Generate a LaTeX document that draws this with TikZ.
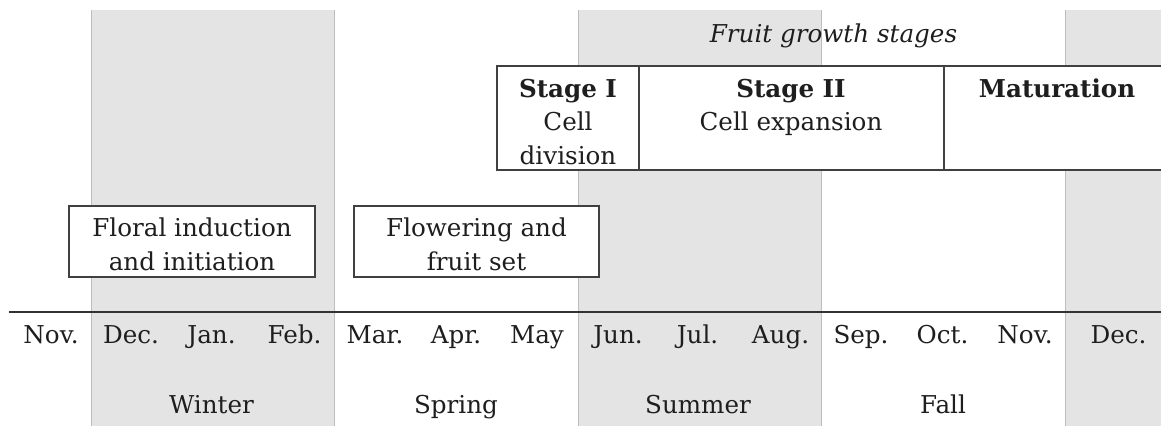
\documentclass[tikz,border=0pt]{standalone}
\usepackage{fontspec}
\setmainfont{DejaVu Serif}
\usetikzlibrary{positioning}

\definecolor{bandgray}{HTML}{E4E4E4}
\definecolor{bandline}{HTML}{BDBDBD}
\definecolor{boxline}{HTML}{404040}
\definecolor{inkgray}{HTML}{1E1E1E}

\begin{document}
\begin{tikzpicture}[x=0.5pt,y=-0.5pt,
		every node/.style={inner sep=0pt, text=inkgray, font=\fontsize{12.3}{16.75}\selectfont},
		band/.style={fill=bandgray},
		bandedge/.style={draw=bandline, line width=0.4pt},
		phasebox/.style={draw=boxline, fill=white, line width=0.65pt},
		label/.style={anchor=base, align=center},
		head/.style={label, font=\fontsize{12.3}{16.75}\selectfont\bfseries}]
	\useasboundingbox (0,0) rectangle (1161,425);
	\def\bandtop{10};
	\def\bandbot{426};
	\def\axisy{312};

	% seasons shaded
	\begin{scope}
		\foreach \l/\r in {91/334.5, 578.5/821.5, 1065.5/1163}{
			\fill[band] (\l,\bandtop) rectangle (\r,\bandbot);
			\draw[bandedge] (\l,\bandtop) -- (\l,\bandbot);
			\draw[bandedge] (\r,\bandtop) -- (\r,\bandbot);
		}
	\end{scope}

	% time axis
	\coordinate (axisL) at (9,\axisy);
	\coordinate (axisR) at (1162,\axisy);
	\draw[line width=1.3pt, black!80] (axisL) -- (axisR);

	\foreach \x/\m [count=\i] in {51/Nov., 131/Dec., 211.5/Jan., 294.5/Feb., 375/Mar., 456/Apr., 537/May, 618/Jun., 697.5/Jul., 780.5/Aug., 861/Sep., 942.5/Oct., 1025/Nov., 1118.5/Dec.}
		\node[label] (m\i) at (\x,343) {\m};

	\node[label] (winter) at (211.5,413) {Winter};
	\node[label] (spring) at (456,413) {Spring};
	\node[label] (summer) at (698,413) {Summer};
	\node[label] (fall) at (943,413) {Fall};

	% flowering phases (base = last line)
	\begin{scope}
		\filldraw[phasebox] (69,206) rectangle (315,277);
		\filldraw[phasebox] (354,206) rectangle (599,277);
		\node[label] (floral) at (192,270) {Floral induction\\and initiation};
		\node[label] (flower) at (476.5,270) {Flowering and\\fruit set};
	\end{scope}

	% fruit growth stages
	\begin{scope}
		\coordinate (sA) at (497,66);
		\coordinate (sB) at (1163,170);
		\filldraw[phasebox] (sA) rectangle (sB);
		\draw[phasebox] (639,66) -- (639,170);
		\draw[phasebox] (944,66) -- (944,170);

		\node[label, font=\fontsize{12.3}{16.75}\selectfont\itshape] (fgs) at (833.5,42) {Fruit growth stages};
		\node[head] (st1) at (568,97) {Stage I};
		\node[label] (st1t) at (568,164) {Cell\\division};
		\node[head] (st2) at (791,97) {Stage II};
		\node[label] (st2t) at (791,130.5) {Cell expansion};
		\node[head] (mat) at (1057,97) {Maturation};
	\end{scope}
\end{tikzpicture}
\end{document}
